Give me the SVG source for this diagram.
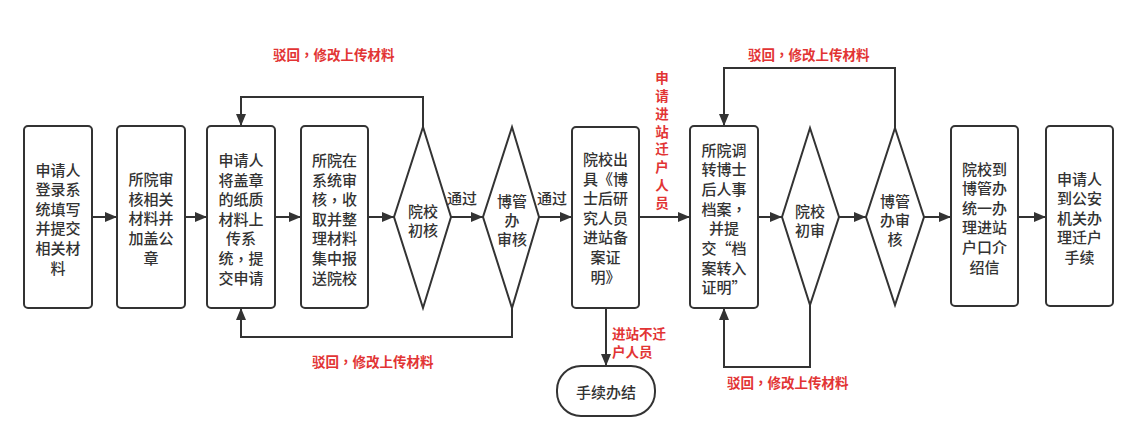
<svg xmlns="http://www.w3.org/2000/svg" width="1142" height="432" viewBox="0 0 1142 432">
<defs>
<marker id="arr" viewBox="0 0 12 10" refX="12" refY="5" markerWidth="12" markerHeight="10" markerUnits="userSpaceOnUse" orient="auto">
<path d="M0,0 L12,5 L0,10 Z" fill="#333"/>
</marker>
<style>
.box{fill:#fff;stroke:#333;stroke-width:2}
.dia{fill:#fff;stroke:#333;stroke-width:2}
.t{font-family:"Noto Sans CJK SC","Noto Sans",sans-serif;font-size:15px;font-weight:500;fill:#333;text-anchor:middle;dominant-baseline:central}
.r{font-family:"Noto Sans CJK SC","Noto Sans",sans-serif;font-size:13.5px;font-weight:700;fill:#e23434;dominant-baseline:central}
.v{text-anchor:middle}
.cm{font-family:"Noto Sans CJK TC","Noto Sans CJK SC",sans-serif}
.c{fill:none;stroke:#333;stroke-width:2;marker-end:url(#arr)}
</style>
</defs>
<rect width="1142" height="432" fill="#fff"/>
<g id="connectors">
<line class="c" x1="92" y1="217" x2="117" y2="217"/>
<line class="c" x1="185" y1="217" x2="207" y2="217"/>
<line class="c" x1="275" y1="217" x2="301" y2="217"/>
<line class="c" x1="368" y1="217" x2="394" y2="217"/>
<line class="c" x1="451" y1="217" x2="483" y2="217"/>
<line class="c" x1="539" y1="217" x2="572" y2="217"/>
<line class="c" x1="639" y1="217" x2="690" y2="217"/>
<line class="c" x1="758" y1="217" x2="782" y2="217"/>
<line class="c" x1="839" y1="217" x2="866" y2="217"/>
<line class="c" x1="924" y1="217" x2="951" y2="217"/>
<line class="c" x1="1018" y1="217" x2="1046" y2="217"/>
<polyline class="c" points="423,127 423,97 241,97 241,126"/>
<polyline class="c" points="512,308 512,337 241,337 241,308"/>
<line class="c" x1="606" y1="308" x2="606" y2="366"/>
<polyline class="c" points="895,128 895,68 724,68 724,126"/>
<polyline class="c" points="810,305 810,367 724,367 724,308"/>
<text class="t" x="462" y="197">通过</text>
<text class="t" x="552" y="197">通过</text>
<text class="r" x="273" y="54">驳回<tspan class="cm" lang="zh-TW" xml:lang="zh-TW">，</tspan>修改上传材料</text>
<text class="r" x="312" y="361">驳回<tspan class="cm" lang="zh-TW" xml:lang="zh-TW">，</tspan>修改上传材料</text>
<text class="r" x="748" y="54">驳回<tspan class="cm" lang="zh-TW" xml:lang="zh-TW">，</tspan>修改上传材料</text>
<text class="r" x="727" y="382">驳回<tspan class="cm" lang="zh-TW" xml:lang="zh-TW">，</tspan>修改上传材料</text>
<text class="r" x="612" y="333">进站不迁</text>
<text class="r" x="612" y="351">户人员</text>
<text class="r v" x="662" y="77">申</text>
<text class="r v" x="662" y="94.9">请</text>
<text class="r v" x="662" y="112.7">进</text>
<text class="r v" x="662" y="130.6">站</text>
<text class="r v" x="662" y="148.4">迁</text>
<text class="r v" x="662" y="166.3">户</text>
<text class="r v" x="662" y="184.1">人</text>
<text class="r v" x="662" y="202">员</text>
</g>
<g id="n1">
<rect class="box" x="24" y="126" width="68" height="182" rx="4"/>
<text class="t" x="58" y="169">申请人</text>
<text class="t" x="58" y="188.6">登录系</text>
<text class="t" x="58" y="208.2">统填写</text>
<text class="t" x="58" y="227.8">并提交</text>
<text class="t" x="58" y="247.4">相关材</text>
<text class="t" x="58" y="267">料</text>
</g>
<g id="n2">
<rect class="box" x="117" y="126" width="68" height="182" rx="4"/>
<text class="t" x="151" y="178.6">所院审</text>
<text class="t" x="151" y="198.2">核相关</text>
<text class="t" x="151" y="217.8">材料并</text>
<text class="t" x="151" y="237.4">加盖公</text>
<text class="t" x="151" y="257">章</text>
</g>
<g id="n3">
<rect class="box" x="207" y="126" width="68" height="182" rx="4"/>
<text class="t" x="241" y="159.5">申请人</text>
<text class="t" x="241" y="179.1">将盖章</text>
<text class="t" x="241" y="198.7">的纸质</text>
<text class="t" x="241" y="218.3">材料上</text>
<text class="t" x="241" y="237.9">传系</text>
<text class="t" x="241" y="257.5">统<tspan class="cm" lang="zh-TW" xml:lang="zh-TW">，</tspan>提</text>
<text class="t" x="241" y="277.1">交申请</text>
</g>
<g id="n4">
<rect class="box" x="301" y="126" width="67" height="182" rx="4"/>
<text class="t" x="334.5" y="159.5">所院在</text>
<text class="t" x="334.5" y="179.1">系统审</text>
<text class="t" x="334.5" y="198.7">核<tspan class="cm" lang="zh-TW" xml:lang="zh-TW">，</tspan>收</text>
<text class="t" x="334.5" y="218.3">取并整</text>
<text class="t" x="334.5" y="237.9">理材料</text>
<text class="t" x="334.5" y="257.5">集中报</text>
<text class="t" x="334.5" y="277.1">送院校</text>
</g>
<g id="d1">
<polygon class="dia" points="423,127 451,217 423,308 394,217"/>
<text class="t" x="423" y="210">院校</text>
<text class="t" x="423" y="229">初核</text>
</g>
<g id="d2">
<polygon class="dia" points="512,127 539,217 512,308 483,217"/>
<text class="t" x="512" y="200">博管</text>
<text class="t" x="512" y="219">办</text>
<text class="t" x="512" y="238">审核</text>
</g>
<g id="n5">
<rect class="box" x="572" y="127" width="67" height="181" rx="4"/>
<text class="t" x="605.5" y="158.5">院校出</text>
<text class="t" x="605.5" y="178.1">具《博</text>
<text class="t" x="605.5" y="197.7">士后研</text>
<text class="t" x="605.5" y="217.3">究人员</text>
<text class="t" x="605.5" y="236.9">进站备</text>
<text class="t" x="605.5" y="256.5">案证</text>
<text class="t" x="605.5" y="276.1">明》</text>
</g>
<g id="end">
<rect class="box" x="557" y="366" width="98" height="50" rx="24"/>
<text class="t" x="606" y="391">手续办结</text>
</g>
<g id="n6">
<rect class="box" x="690" y="126" width="68" height="182" rx="4"/>
<text class="t" x="724" y="149">所院调</text>
<text class="t" x="724" y="168.7">转博士</text>
<text class="t" x="724" y="188.4">后人事</text>
<text class="t" x="724" y="208.1">档案<tspan class="cm" lang="zh-TW" xml:lang="zh-TW">，</tspan></text>
<text class="t" x="724" y="227.8">并提</text>
<text class="t" x="724" y="247.5">交“档</text>
<text class="t" x="724" y="267.2">案转入</text>
<text class="t" x="724" y="286.9">证明”</text>
</g>
<g id="d3">
<polygon class="dia" points="810,128 839,217 810,305 782,217"/>
<text class="t" x="810" y="210">院校</text>
<text class="t" x="810" y="229">初审</text>
</g>
<g id="d4">
<polygon class="dia" points="895,128 924,217 895,305 866,217"/>
<text class="t" x="895" y="200">博管</text>
<text class="t" x="895" y="219">办审</text>
<text class="t" x="895" y="238">核</text>
</g>
<g id="n7">
<rect class="box" x="951" y="126" width="67" height="180" rx="4"/>
<text class="t" x="984.5" y="168">院校到</text>
<text class="t" x="984.5" y="187.6">博管办</text>
<text class="t" x="984.5" y="207.2">统一办</text>
<text class="t" x="984.5" y="226.8">理进站</text>
<text class="t" x="984.5" y="246.4">户口介</text>
<text class="t" x="984.5" y="266">绍信</text>
</g>
<g id="n8">
<rect class="box" x="1046" y="126" width="67" height="180" rx="4"/>
<text class="t" x="1079.5" y="178">申请人</text>
<text class="t" x="1079.5" y="197.6">到公安</text>
<text class="t" x="1079.5" y="217.2">机关办</text>
<text class="t" x="1079.5" y="236.8">理迁户</text>
<text class="t" x="1079.5" y="256.4">手续</text>
</g>
</svg>
